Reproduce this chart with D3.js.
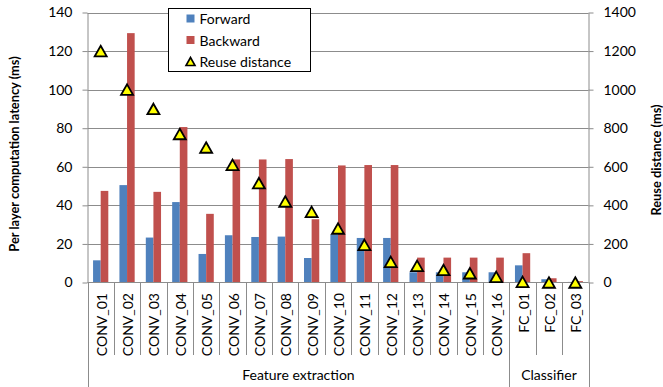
<!DOCTYPE html>
<html>
<head>
<meta charset="utf-8">
<script src="https://cdn.jsdelivr.net/npm/d3@7"></script>
<style>
  html, body { margin: 0; padding: 0; background: #fff; }
  svg { display: block; font-family: Lato, "Open Sans", sans-serif; }
</style>
</head>
<body>
<svg id="chart" width="663" height="387"></svg>
<script>
// Per-layer latency (ms) and reuse distance (ms)
const categories = ["CONV_01","CONV_02","CONV_03","CONV_04","CONV_05","CONV_06","CONV_07","CONV_08",
  "CONV_09","CONV_10","CONV_11","CONV_12","CONV_13","CONV_14","CONV_15","CONV_16","FC_01","FC_02","FC_03"];
const forward  = [11.5, 50.5, 23.3, 41.7, 14.8, 24.5, 23.6, 23.8, 12.7, 24.9, 23.1, 23.1, 5.3, 5.3, 5.3, 5.3, 8.9, 1.7, 0.3];
const backward = [47.5, 129.3, 47.0, 80.6, 35.6, 63.8, 63.8, 64.0, 32.8, 60.7, 60.9, 60.9, 12.9, 12.9, 12.9, 12.9, 15.2, 2.2, 0.7];
const reuse    = [1200, 1000, 900, 770, 700, 610, 515, 420, 366, 280, 195, 107, 86, 65, 48, 29, 3, 0, 0];
const leftTicks  = [0, 20, 40, 60, 80, 100, 120, 140];
const rightTicks = [0, 200, 400, 600, 800, 1000, 1200, 1400];
const groups = [
  { name: "Feature extraction", first: "CONV_01", last: "CONV_16" },
  { name: "Classifier", first: "FC_01", last: "FC_03" }
];
const seriesNames = ["Forward", "Backward"];
const seriesColors = ["#4F81BD", "#C0504D"];

const svg = d3.select("#chart");
const plot = { left: 87.5, right: 588.5, top: 12.5, bottom: 282.5 };
const gridColor = "#8c8c8c";

const x = d3.scaleBand().domain(categories).range([plot.left, plot.right]).padding(0);
const xs = d3.scaleBand().domain(seriesNames).range([0, x.bandwidth()]).paddingInner(0).paddingOuter(0.73);
const yL = d3.scaleLinear().domain([0, 140]).range([plot.bottom, plot.top]);
const yR = d3.scaleLinear().domain([0, 1400]).range([plot.bottom, plot.top]);

// horizontal gridlines
svg.append("g").selectAll("line").data(leftTicks.slice(1)).join("line")
  .attr("x1", plot.left).attr("x2", plot.right)
  .attr("y1", d => Math.round(yL(d)) + 0.5).attr("y2", d => Math.round(yL(d)) + 0.5)
  .attr("stroke", gridColor).attr("stroke-width", 1);

// bars
const barData = [];
categories.forEach((c, i) => {
  barData.push({ cat: c, s: 0, v: forward[i] });
  barData.push({ cat: c, s: 1, v: backward[i] });
});
svg.append("g").selectAll("rect").data(barData).join("rect")
  .attr("x", d => x(d.cat) + xs(seriesNames[d.s]))
  .attr("width", xs.bandwidth())
  .attr("y", d => yL(d.v))
  .attr("height", d => plot.bottom - yL(d.v))
  .attr("fill", d => seriesColors[d.s]);

// left axis
const axL = svg.append("g").attr("transform", `translate(${plot.left},0)`)
  .call(d3.axisLeft(yL).tickValues(leftTicks).tickSize(5).tickPadding(10).tickSizeOuter(0));
// right axis
const axR = svg.append("g").attr("transform", `translate(${plot.right},0)`)
  .call(d3.axisRight(yR).tickValues(rightTicks).tickFormat(d3.format("d"))
    .tickSize(5).tickPadding(10).tickSizeOuter(0));
[axL, axR].forEach(a => {
  a.select(".domain").attr("stroke", gridColor);
  a.selectAll(".tick line").attr("stroke", gridColor);
  a.selectAll(".tick text").attr("fill", "#000").attr("font-size", 14)
    .attr("font-family", "Lato, sans-serif");
});

// bottom axis line
svg.append("line").attr("x1", plot.left).attr("x2", plot.right)
  .attr("y1", plot.bottom).attr("y2", plot.bottom).attr("stroke", gridColor);

// category separators
const bounds = categories.map(c => x(c)).concat([plot.right]);
const groupEdges = new Set([x(groups[0].first), x(groups[1].first), plot.right]);
svg.append("g").selectAll("line").data(bounds).join("line")
  .attr("x1", d => Math.round(d) + 0.5).attr("x2", d => Math.round(d) + 0.5)
  .attr("y1", plot.bottom)
  .attr("y2", d => groupEdges.has(d) ? 387 : 355)
  .attr("stroke", gridColor);

// category labels
svg.append("g").selectAll("text").data(categories).join("text")
  .attr("transform", d => `translate(${x(d) + x.bandwidth() / 2 + 0.5},293) rotate(-90)`)
  .attr("text-anchor", "end").attr("dominant-baseline", "central")
  .attr("font-size", 14).text(d => d);

// group labels
svg.append("g").selectAll("text").data(groups).join("text")
  .attr("x", d => (x(d.first) + x(d.last) + x.bandwidth()) / 2)
  .attr("y", 380).attr("text-anchor", "middle").attr("font-size", 14)
  .text(d => d.name);

// reuse distance markers
const tri = (w, h) => `M0,${-h / 2}L${w / 2},${h / 2}L${-w / 2},${h / 2}Z`;
svg.append("g").selectAll("path").data(reuse).join("path")
  .attr("transform", (d, i) => `translate(${x(categories[i]) + x.bandwidth() / 2},${yR(d)})`)
  .attr("d", tri(12, 10.5))
  .attr("fill", "#FFFF00").attr("stroke", "#000").attr("stroke-width", 1.8)
  .attr("stroke-linejoin", "miter");

// axis titles
svg.append("text").attr("transform", "translate(13.5,154) rotate(-90)")
  .attr("text-anchor", "middle").attr("dominant-baseline", "central")
  .attr("font-size", 12.8).attr("font-weight", "bold").text("Per layer computation latency (ms)");
svg.append("text").attr("transform", "translate(656,160) rotate(-90)")
  .attr("text-anchor", "middle").attr("dominant-baseline", "central")
  .attr("font-size", 12.8).attr("font-weight", "bold").text("Reuse distance (ms)");

// legend
const lg = svg.append("g").attr("transform", "translate(168.5,8.5)");
lg.append("rect").attr("width", 142).attr("height", 63)
  .attr("fill", "#fff").attr("stroke", "#000").attr("stroke-width", 1);
seriesNames.forEach((n, i) => {
  lg.append("rect").attr("x", 18).attr("y", 6 + i * 21.5).attr("width", 8).attr("height", 8)
    .attr("fill", seriesColors[i]);
  lg.append("text").attr("x", 31).attr("y", 10 + i * 21.5).attr("dominant-baseline", "central")
    .attr("font-size", 14).text(n);
});
lg.append("path").attr("transform", "translate(22,53)").attr("d", tri(9, 8))
  .attr("fill", "#FFFF00").attr("stroke", "#000").attr("stroke-width", 1.6);
lg.append("text").attr("x", 31).attr("y", 53).attr("dominant-baseline", "central")
  .attr("font-size", 14).text("Reuse distance");
</script>
</body>
</html>
